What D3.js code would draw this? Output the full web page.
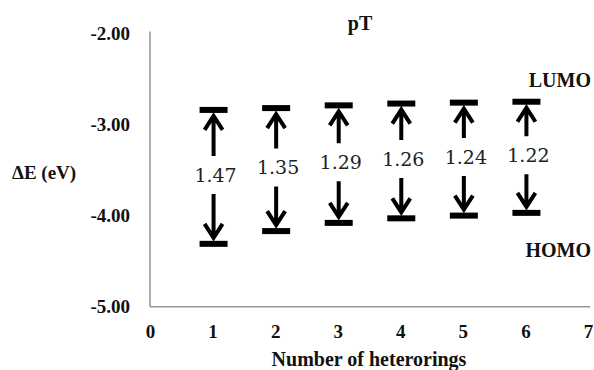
<!DOCTYPE html>
<html>
<head>
<meta charset="utf-8">
<script src="https://cdn.jsdelivr.net/npm/d3@7"></script>
<style>
  html, body { margin: 0; padding: 0; background: #fff; }
  svg { display: block; }
</style>
</head>
<body>
<svg id="chart" width="594" height="370"></svg>
<script>
const categories = [1, 2, 3, 4, 5, 6];
const lumo = [-2.84, -2.82, -2.79, -2.77, -2.76, -2.75];
const homo = [-4.31, -4.17, -4.08, -4.03, -4.00, -3.97];
const gapLabels = ["1.47", "1.35", "1.29", "1.26", "1.24", "1.22"];
const yTicks = [-2, -3, -4, -5];
const xTicks = [0, 1, 2, 3, 4, 5, 6, 7];

const svg = d3.select("#chart");
const x = d3.scaleLinear().domain([0, 7]).range([150, 588]);
const y = d3.scaleLinear().domain([-5, -2]).range([306.7, 33.4]);

const serifBold = "'Liberation Serif', 'Times New Roman', serif";

// Y axis
const yAxis = svg.append("g")
  .attr("transform", `translate(${x(0)},0)`)
  .call(d3.axisLeft(y).tickValues(yTicks).tickSize(0).tickPadding(20)
    .tickFormat(d => d.toFixed(2)));
yAxis.select(".domain").attr("stroke", "#9a9a9a").attr("stroke-width", 1.6)
  .attr("d", `M0,${y(-2) - 2}V${y(-5)}`);
yAxis.selectAll("text").attr("font-family", serifBold).attr("font-weight", "bold")
  .attr("font-size", 19).attr("fill", "#111");

// X axis
const xAxis = svg.append("g")
  .attr("transform", `translate(0,${y(-5)})`)
  .call(d3.axisBottom(x).tickValues(xTicks).tickSize(0).tickPadding(18)
    .tickFormat(d3.format("d")));
xAxis.select(".domain").attr("stroke", "#9a9a9a").attr("stroke-width", 1.6)
  .attr("d", `M${x(0)},0H${x(7) + 2}`);
xAxis.selectAll("text").attr("font-family", serifBold).attr("font-weight", "bold")
  .attr("font-size", 19).attr("fill", "#111");

// Bars and arrows
const data = categories.map((c, i) => ({ c, l: lumo[i], h: homo[i], g: gapLabels[i] }));
const barW = 28, barH = 6;
const g = svg.append("g");

g.selectAll("rect.lumo").data(data).enter().append("rect")
  .attr("x", d => x(d.c) - barW / 2 + 1).attr("width", barW)
  .attr("y", d => y(d.l) - barH / 2).attr("height", barH).attr("fill", "#000");
g.selectAll("rect.homo").data(data).enter().append("rect")
  .attr("x", d => x(d.c) - barW / 2 + 1).attr("width", barW)
  .attr("y", d => y(d.h) - barH / 2).attr("height", barH).attr("fill", "#000");

const labelY = d => (y(d.l) + y(d.h)) / 2 - 2;
const hw = 9, hh = 14;

// Up arrows
g.selectAll("path.up").data(data).enter().append("path")
  .attr("d", d => {
    const cx = x(d.c) + 1, tip = y(d.l) + barH / 2 + 3, bot = labelY(d) - 19;
    return `M${cx},${bot}V${tip}M${cx - hw},${tip + hh}L${cx},${tip}L${cx + hw},${tip + hh}`;
  })
  .attr("fill", "none").attr("stroke", "#000").attr("stroke-width", 4)
  .attr("stroke-linejoin", "miter");

// Down arrows
g.selectAll("path.down").data(data).enter().append("path")
  .attr("d", d => {
    const cx = x(d.c) + 1, tip = y(d.h) - barH / 2 - 3, top = labelY(d) + 19;
    return `M${cx},${top}V${tip}M${cx - hw},${tip - hh}L${cx},${tip}L${cx + hw},${tip - hh}`;
  })
  .attr("fill", "none").attr("stroke", "#000").attr("stroke-width", 4)
  .attr("stroke-linejoin", "miter");

// Gap labels
g.selectAll("text.gap").data(data).enter().append("text")
  .attr("x", d => x(d.c) + 3).attr("y", d => labelY(d)).attr("dy", "0.36em")
  .attr("text-anchor", "middle")
  .attr("font-family", "'DejaVu Serif', serif").attr("font-size", 19)
  .attr("fill", "#222").text(d => d.g);

// Title and annotations
svg.append("text").attr("x", 360).attr("y", 30).attr("text-anchor", "middle")
  .attr("font-family", serifBold).attr("font-weight", "bold").attr("font-size", 20)
  .attr("fill", "#111").text("pT");
svg.append("text").attr("x", 591).attr("y", 87).attr("text-anchor", "end")
  .attr("font-family", serifBold).attr("font-weight", "bold").attr("font-size", 20)
  .attr("fill", "#111").text("LUMO");
svg.append("text").attr("x", 591).attr("y", 257).attr("text-anchor", "end")
  .attr("font-family", serifBold).attr("font-weight", "bold").attr("font-size", 20)
  .attr("fill", "#111").text("HOMO");
svg.append("text").attr("x", 12).attr("y", 179).attr("text-anchor", "start")
  .attr("font-family", serifBold).attr("font-weight", "bold").attr("font-size", 19)
  .attr("fill", "#111").text("ΔE (eV)");
svg.append("text").attr("x", 369).attr("y", 366).attr("text-anchor", "middle")
  .attr("font-family", serifBold).attr("font-weight", "bold").attr("font-size", 20)
  .attr("fill", "#111").text("Number of heterorings");
</script>
</body>
</html>
